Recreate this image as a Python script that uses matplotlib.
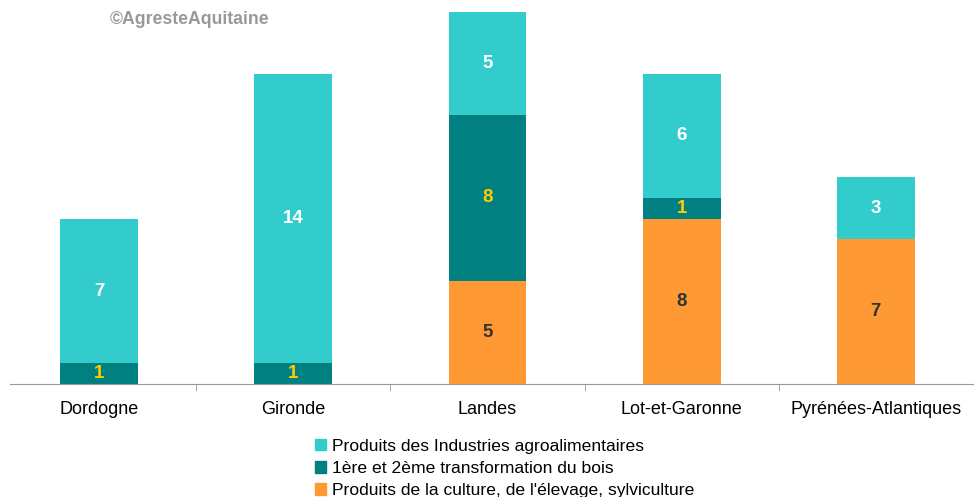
import numpy as np
import matplotlib.pyplot as plt
from matplotlib.patches import Patch

plt.rcParams['font.family'] = ['Liberation Sans', 'DejaVu Sans']

# ── Data ──────────────────────────────────────────────────────────────────────

departements = ["Dordogne", "Gironde", "Landes", "Lot-et-Garonne",
                "Pyrénées-Atlantiques"]
culture = [0, 0, 5, 8, 7]
bois    = [1, 1, 8, 1, 0]
iaa     = [7, 14, 5, 6, 3]

series_names = ["Produits des Industries agroalimentaires",
                "1ère et 2ème transformation du bois",
                "Produits de la culture, de l'élevage, sylviculture"]

C_IAA  = "#33CCCC"
C_BOIS = "#008080"
C_CULT = "#FF9933"

# ── Figure ────────────────────────────────────────────────────────────────────

fig = plt.figure(figsize=(9.74, 4.97), dpi=100)
ax = fig.add_axes([2 / 974, 113 / 497, 971 / 974, 372 / 497])

x = np.arange(len(departements))
w = 0.4
culture = np.array(culture)
bois = np.array(bois)
iaa = np.array(iaa)

ax.bar(x, culture, w, color=C_CULT)
ax.bar(x, bois, w, bottom=culture, color=C_BOIS)
ax.bar(x, iaa, w, bottom=culture + bois, color=C_IAA)

# value labels
LBL = dict(ha="center", va="center", fontsize=13.5, fontweight="bold")
for i in range(len(x)):
    if culture[i]:
        ax.text(x[i], culture[i] / 2, str(culture[i]), color="#333333", **LBL)
    if bois[i]:
        ax.text(x[i], culture[i] + bois[i] / 2, str(bois[i]),
                color="#FFCC00", **LBL)
    if iaa[i]:
        ax.text(x[i], culture[i] + bois[i] + iaa[i] / 2, str(iaa[i]),
                color="white", **LBL)

ax.set_xlim(-0.5, 4.5)
ax.set_ylim(0, 18)
ax.set_yticks([])
ax.set_xticks(x)
ax.set_xticklabels(departements, fontsize=13)
ax.tick_params(axis="x", which="major", length=0, pad=12)
ax.set_xticks(x[:-1] + 0.5, minor=True)
ax.tick_params(axis="x", which="minor", length=5, color="#999999")

for s in ["top", "right", "left"]:
    ax.spines[s].set_visible(False)
ax.spines["bottom"].set_color("#999999")
ax.spines["bottom"].set_bounds(-0.46, 4.5)

fig.text(110 / 974, 1 - 19 / 497, "©AgresteAquitaine", fontsize=12.7,
         fontweight="bold", color="#999999", va="center", ha="left")

handles = [Patch(color=C_IAA), Patch(color=C_BOIS), Patch(color=C_CULT)]
fig.legend(handles, series_names, loc="upper left",
           bbox_to_anchor=(306 / 974, 1 - 430 / 497), frameon=False,
           fontsize=12.6, handlelength=0.65, handleheight=0.65,
           handletextpad=0.35, labelspacing=0.42, borderpad=0)

fig.savefig("out.png", dpi=100)
